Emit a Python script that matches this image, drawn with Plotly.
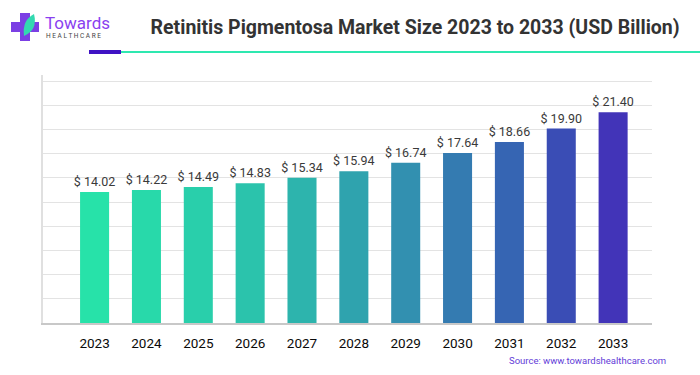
import plotly.graph_objects as go

years = ["2023", "2024", "2025", "2026", "2027", "2028", "2029", "2030", "2031", "2032", "2033"]
values = [14.02, 14.22, 14.49, 14.83, 15.34, 15.94, 16.74, 17.64, 18.66, 19.90, 21.40]
labels = ["$ 14.02", "$ 14.22", "$ 14.49", "$ 14.83", "$ 15.34", "$ 15.94",
          "$ 16.74", "$ 17.64", "$ 18.66", "$ 19.90", "$ 21.40"]
colors = ["#27e2a9", "#28d9aa", "#29cfab", "#2bc3ac", "#2db4ad", "#2fa3ae",
          "#3290b0", "#347bb1", "#3665b3", "#3a4db5", "#4234b8"]

BASE = 1.9

fig = go.Figure()
fig.add_trace(go.Bar(
    x=list(range(len(years))), y=[v - BASE for v in values], base=BASE, width=0.56,
    marker=dict(color=colors, line=dict(width=0)),
    text=labels, textposition="outside", cliponaxis=False, constraintext="none",
    textfont=dict(family="Roboto, Arial, sans-serif", size=12.5, color="#3a3a3a"),
    hoverinfo="skip",
))

fig.update_layout(
    width=700, height=375,
    margin=dict(l=43, r=48, t=75, b=52),
    paper_bgcolor="white", plot_bgcolor="white",
    showlegend=False,
    title=dict(text="<b>Retinitis Pigmentosa Market Size 2023 to 2033 (USD Billion)</b>",
               x=0.593, xanchor="center", y=0.928, yanchor="middle",
               font=dict(family="Roboto, Arial, sans-serif", size=19.5, color="#333333")),
    xaxis=dict(range=[-0.995, 10.75], tickmode="array", tickvals=list(range(len(years))),
               ticktext=years, showgrid=False, showline=True, linecolor="#c8c8c8",
               linewidth=1.5, ticks="", zeroline=False, ticklabelstandoff=7,
               tickfont=dict(family="Roboto, Arial, sans-serif", size=13.5, color="#0a0a0a")),
    yaxis=dict(range=[BASE, 24.86], tick0=BASE, dtick=2.24, showticklabels=False,
               showgrid=True, gridcolor="#e3e3e3", gridwidth=1, zeroline=False,
               showline=True, linecolor="#e0e0e0", linewidth=1.5, ticks=""),
)


def px(x):
    return (x - 43) / 609


def py(y):
    return (375 - 52 - y) / 248


# header underline
fig.add_shape(type="line", xref="paper", yref="paper", x0=px(121), x1=px(700),
              y0=py(52), y1=py(52), line=dict(color="#2ee8b0", width=1.8))
fig.add_shape(type="rect", xref="paper", yref="paper", x0=px(89), x1=px(121),
              y0=py(54), y1=py(50), line=dict(width=0), fillcolor="#3f12c4")

# logo cross + leaf
fig.add_shape(type="rect", xref="paper", yref="paper", x0=px(20), x1=px(30), y0=py(41), y1=py(13),
              line=dict(width=0), fillcolor="#7b3fe4")
fig.add_shape(type="rect", xref="paper", yref="paper", x0=px(11), x1=px(39), y0=py(32), y1=py(22),
              line=dict(width=0), fillcolor="#7b3fe4")
fig.add_shape(type="path", xref="paper", yref="paper",
              path=f"M {px(24)} {py(36)} Q {px(22)} {py(20)} {px(34)} {py(14)} Q {px(38)} {py(30)} {px(24)} {py(36)} Z",
              line=dict(width=0), fillcolor="#33d9b0")

fig.add_annotation(xref="paper", yref="paper", x=px(43), y=py(23), xanchor="left", yanchor="middle",
                   text="Towards", showarrow=False,
                   font=dict(family="Roboto, Arial, sans-serif", size=17, color="#8a3ff0"))
fig.add_annotation(xref="paper", yref="paper", x=px(44), y=py(36), xanchor="left", yanchor="middle",
                   text="H E A L T H C A R E", showarrow=False,
                   font=dict(family="Roboto, Arial, sans-serif", size=6.5, color="#444444"))

fig.add_annotation(xref="paper", yref="paper", x=px(668), y=py(360), xanchor="right", yanchor="middle",
                   text="Source: www.towardshealthcare.com", showarrow=False,
                   font=dict(family="Roboto, Arial, sans-serif", size=9.5, color="#6340d8"))

fig.write_html("out.html", config={"displayModeBar": False},
               post_script="document.body.style.margin='0';")
